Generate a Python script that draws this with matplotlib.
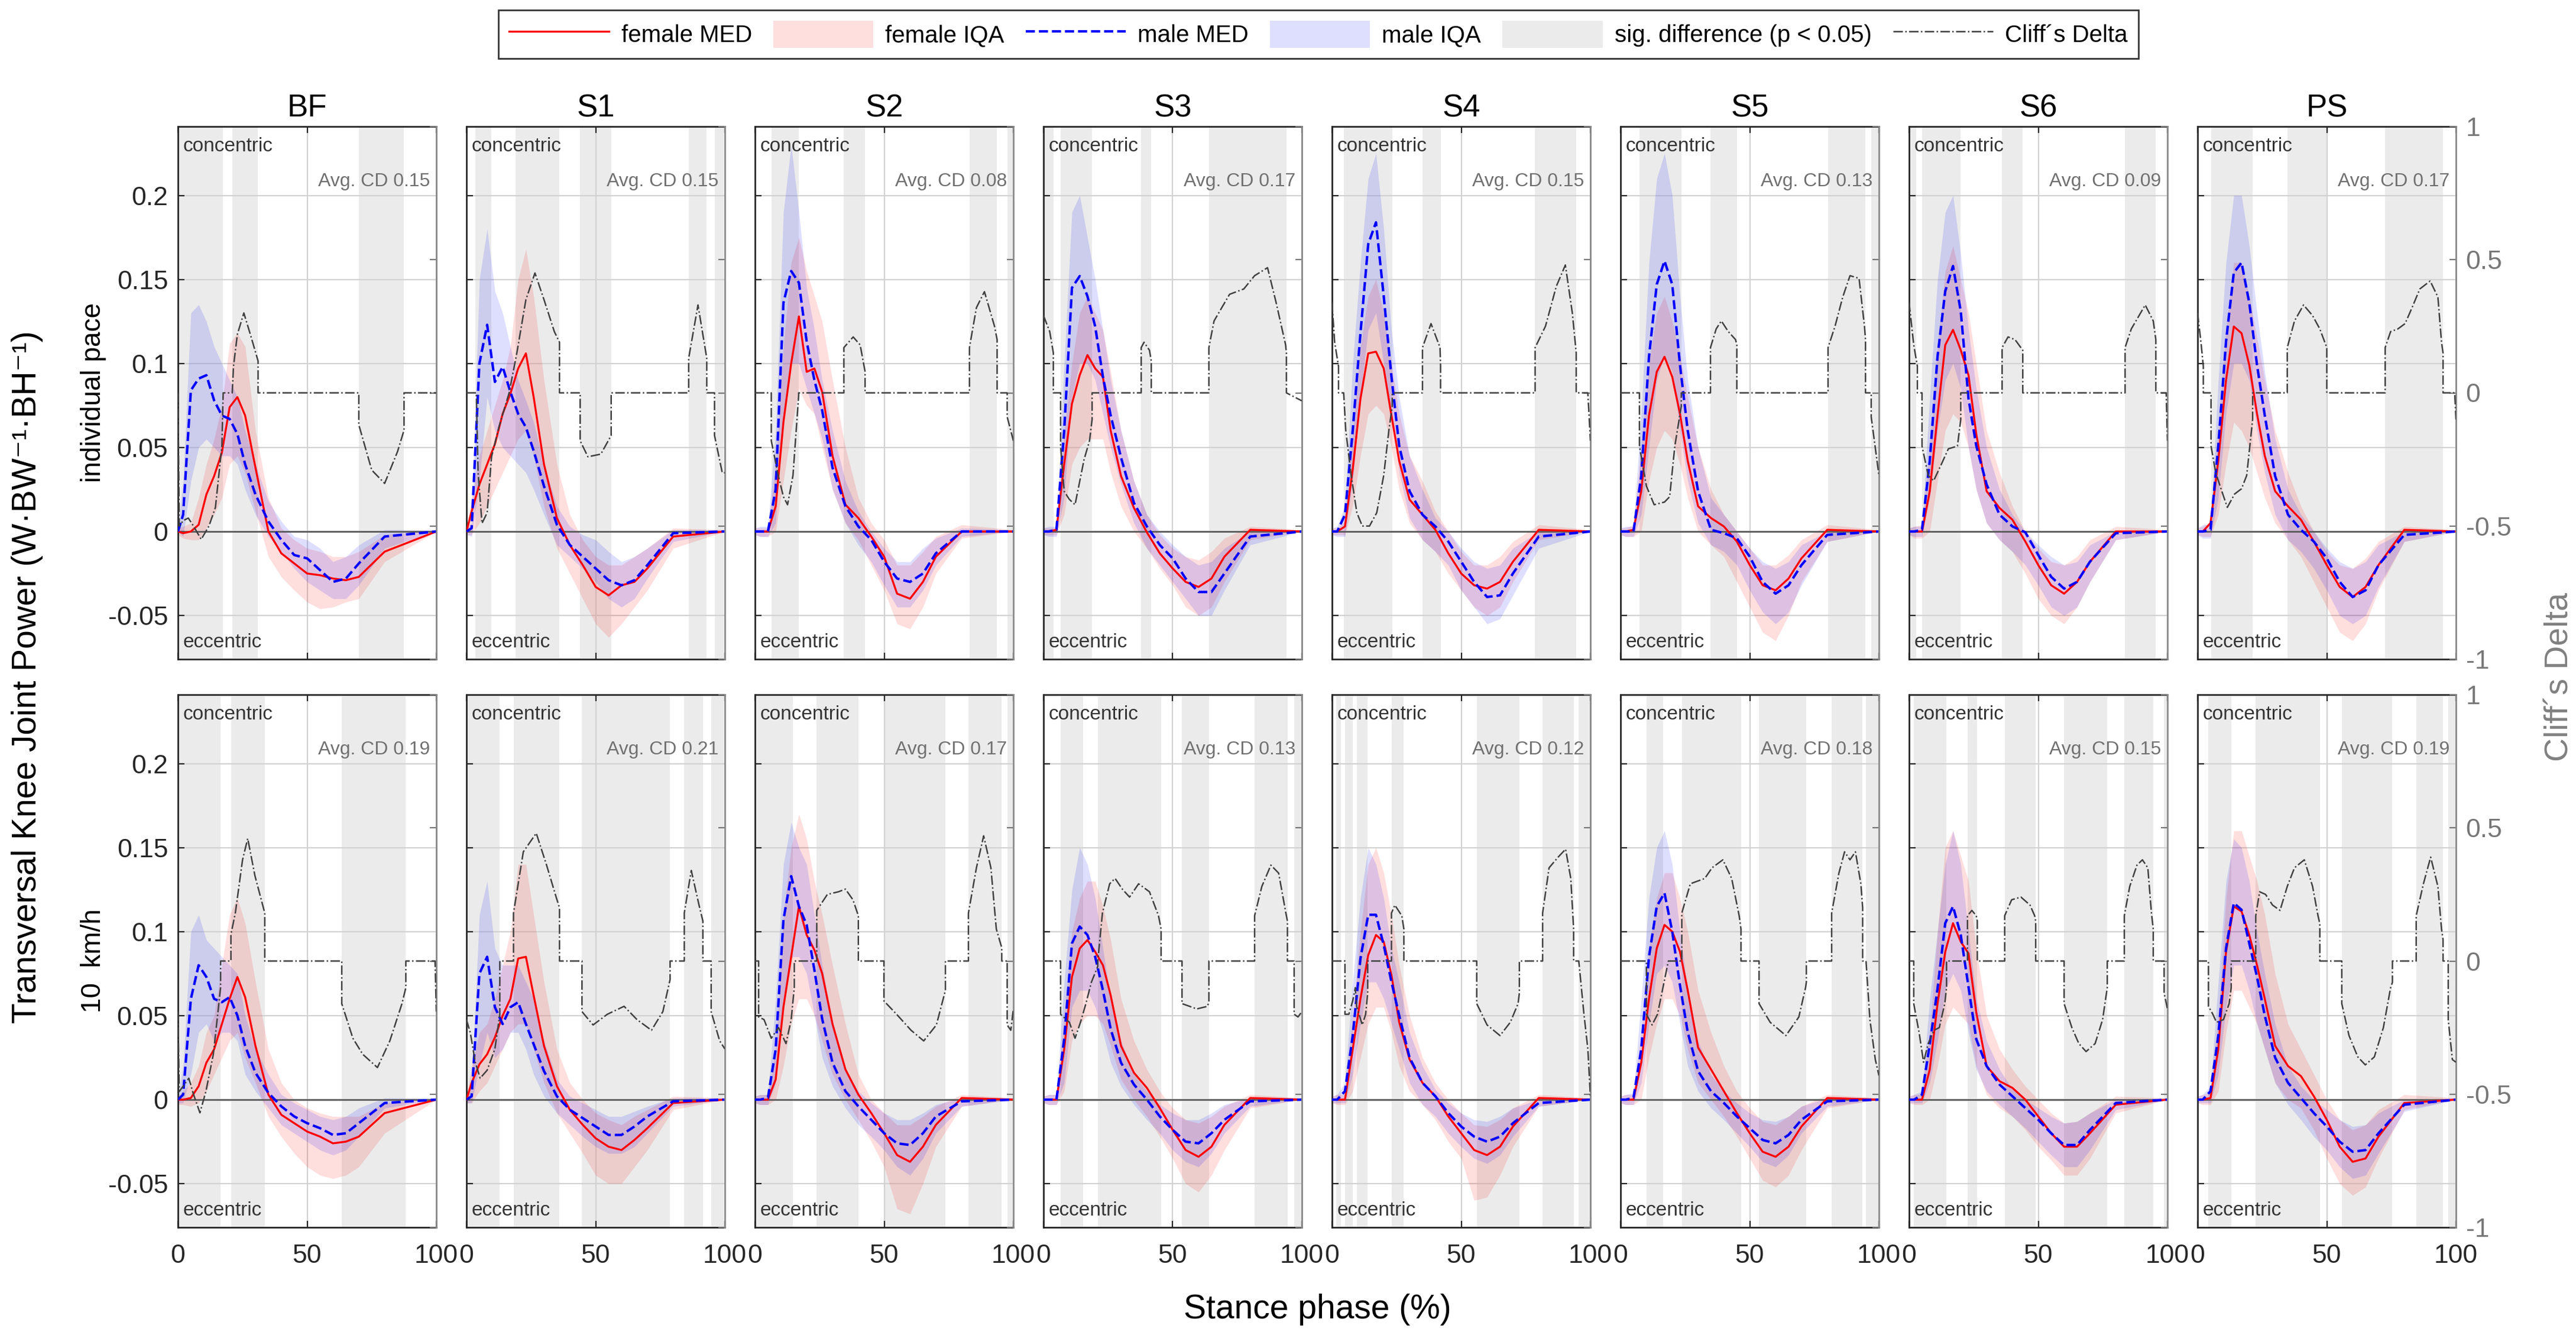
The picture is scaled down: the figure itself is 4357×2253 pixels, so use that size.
import matplotlib
matplotlib.use('Agg')
import matplotlib.pyplot as plt
from matplotlib.lines import Line2D
from matplotlib.patches import Patch
from matplotlib.ticker import FuncFormatter
import numpy as np

plt.rcParams['font.family'] = ['Liberation Sans', 'DejaVu Sans']

# stance phase sample points (%)
X_GRID = [0, 2, 5, 8, 11, 14, 17, 20, 23, 26, 30, 35, 40, 45, 50, 55, 60, 65, 70, 80, 100]

SEGMENTS = ['BF', 'S1', 'S2', 'S3', 'S4', 'S5', 'S6', 'PS']
ROW_NAMES = ['individual pace', '10  km/h']

AVG_CD_IND = [0.15, 0.15, 0.08, 0.17, 0.15, 0.13, 0.09, 0.17]
AVG_CD_10 = [0.19, 0.21, 0.17, 0.13, 0.12, 0.18, 0.15, 0.19]

# ---------------- individual pace ----------------
MAL_MED_IND = [
    [0, 0.01, 0.084, 0.091, 0.093, 0.078, 0.069, 0.067, 0.058, 0.040, 0.022, 0.006, -0.005, -0.014, -0.016, -0.023, -0.030, -0.028, -0.019, -0.003, 0],
    [0, 0.002, 0.1, 0.123, 0.089, 0.098, 0.083, 0.07, 0.062, 0.048, 0.027, 0.004, -0.008, -0.015, -0.022, -0.029, -0.032, -0.029, -0.02, -0.001, 0],
    [0, 0, 0, 0.025, 0.136, 0.155, 0.148, 0.113, 0.09, 0.072, 0.038, 0.015, 0.003, -0.005, -0.018, -0.028, -0.03, -0.025, -0.013, 0, 0],
    [0, 0, 0.001, 0.06, 0.145, 0.152, 0.14, 0.122, 0.092, 0.069, 0.044, 0.017, 0.003, -0.008, -0.016, -0.028, -0.036, -0.036, -0.025, -0.003, 0],
    [0, 0, 0.01, 0.06, 0.118, 0.171, 0.184, 0.14, 0.092, 0.051, 0.024, 0.01, 0.003, -0.006, -0.018, -0.03, -0.039, -0.038, -0.025, -0.003, 0],
    [0, 0, 0, 0.033, 0.104, 0.147, 0.161, 0.147, 0.099, 0.06, 0.024, 0.001, -0.001, -0.004, -0.015, -0.03, -0.037, -0.032, -0.02, -0.002, 0],
    [0, 0, 0.001, 0.042, 0.104, 0.143, 0.158, 0.131, 0.079, 0.051, 0.028, 0.01, 0.003, -0.0005, -0.014, -0.027, -0.034, -0.03, -0.018, -0.001, 0],
    [0, 0, 0.001, 0.051, 0.113, 0.154, 0.16, 0.136, 0.099, 0.069, 0.033, 0.01, 0.001, -0.006, -0.016, -0.03, -0.039, -0.035, -0.02, -0.002, 0],
]
MAL_LO_IND = [
    [0, -0.003, 0.03, 0.05, 0.055, 0.05, 0.045, 0.045, 0.04, 0.025, 0.01, -0.003, -0.012, -0.022, -0.03, -0.035, -0.04, -0.04, -0.032, -0.01, 0],
    [-0.002, -0.003, 0.03, 0.08, 0.06, 0.05, 0.045, 0.04, 0.035, 0.025, 0.01, -0.008, -0.015, -0.022, -0.03, -0.04, -0.045, -0.04, -0.028, -0.006, 0],
    [-0.002, -0.003, -0.003, 0.005, 0.07, 0.1, 0.1, 0.085, 0.07, 0.055, 0.025, 0.005, -0.008, -0.018, -0.032, -0.045, -0.045, -0.035, -0.02, -0.003, 0],
    [-0.002, -0.003, -0.003, 0.02, 0.08, 0.1, 0.1, 0.09, 0.07, 0.05, 0.028, 0.005, -0.01, -0.02, -0.03, -0.04, -0.05, -0.05, -0.035, -0.008, 0],
    [-0.002, -0.003, -0.003, 0.03, 0.08, 0.12, 0.13, 0.1, 0.07, 0.035, 0.008, -0.005, -0.012, -0.02, -0.035, -0.045, -0.055, -0.052, -0.038, -0.01, 0],
    [-0.002, -0.003, -0.003, 0.01, 0.05, 0.09, 0.105, 0.095, 0.06, 0.03, 0.005, -0.008, -0.012, -0.02, -0.035, -0.048, -0.055, -0.048, -0.032, -0.006, 0],
    [-0.002, -0.003, -0.003, 0.02, 0.06, 0.09, 0.1, 0.085, 0.05, 0.025, 0.005, -0.005, -0.012, -0.02, -0.032, -0.045, -0.05, -0.045, -0.03, -0.005, 0],
    [-0.002, -0.004, -0.004, 0.02, 0.07, 0.1, 0.1, 0.09, 0.06, 0.035, 0.01, -0.005, -0.012, -0.022, -0.035, -0.05, -0.055, -0.05, -0.033, -0.006, 0],
]
MAL_HI_IND = [
    [0.003, 0.03, 0.13, 0.135, 0.125, 0.11, 0.1, 0.09, 0.08, 0.06, 0.04, 0.018, 0.006, -0.003, -0.005, -0.01, -0.018, -0.015, -0.008, 0.001, 0.001],
    [0.002, 0.005, 0.15, 0.18, 0.143, 0.13, 0.11, 0.09, 0.078, 0.065, 0.04, 0.015, 0.003, -0.002, -0.005, -0.012, -0.018, -0.015, -0.01, 0.001, 0.001],
    [0.002, 0.003, 0.003, 0.06, 0.19, 0.23, 0.19, 0.145, 0.12, 0.09, 0.06, 0.03, 0.012, 0.0, -0.01, -0.018, -0.018, -0.01, -0.004, 0.002, 0.001],
    [0.002, 0.003, 0.003, 0.1, 0.19, 0.2, 0.175, 0.15, 0.12, 0.09, 0.06, 0.03, 0.01, 0.0, -0.008, -0.015, -0.02, -0.018, -0.01, 0.0, 0.001],
    [0.002, 0.003, 0.015, 0.1, 0.16, 0.21, 0.225, 0.18, 0.12, 0.08, 0.045, 0.025, 0.008, 0.0, -0.01, -0.018, -0.022, -0.02, -0.01, 0.0, 0.001],
    [0.002, 0.003, 0.003, 0.07, 0.16, 0.21, 0.225, 0.2, 0.14, 0.09, 0.05, 0.02, 0.01, 0.0, -0.01, -0.018, -0.022, -0.018, -0.008, 0.0, 0.001],
    [0.002, 0.003, 0.003, 0.08, 0.15, 0.19, 0.2, 0.165, 0.12, 0.085, 0.05, 0.025, 0.01, 0.0, -0.008, -0.015, -0.02, -0.018, -0.008, 0.0, 0.001],
    [0.002, 0.004, 0.004, 0.09, 0.16, 0.2, 0.2, 0.17, 0.13, 0.095, 0.055, 0.025, 0.01, 0.0, -0.01, -0.018, -0.022, -0.018, -0.008, 0.0, 0.001],
]
FEM_MED_IND = [
    [0, -0.001, 0, 0.004, 0.022, 0.033, 0.047, 0.074, 0.08, 0.069, 0.038, 0.0, -0.013, -0.019, -0.025, -0.026, -0.028, -0.029, -0.027, -0.012, 0],
    [0, 0.012, 0.028, 0.04, 0.052, 0.07, 0.082, 0.097, 0.106, 0.08, 0.04, 0.008, -0.008, -0.02, -0.033, -0.038, -0.032, -0.03, -0.022, -0.003, 0],
    [0, 0, 0, 0.015, 0.065, 0.1, 0.128, 0.095, 0.097, 0.083, 0.045, 0.016, 0.008, -0.003, -0.015, -0.037, -0.04, -0.03, -0.015, 0.0, 0],
    [0, 0, 0.001, 0.04, 0.076, 0.093, 0.105, 0.097, 0.092, 0.06, 0.033, 0.014, -0.0005, -0.013, -0.022, -0.03, -0.033, -0.028, -0.015, 0.001, 0],
    [0, 0, 0.003, 0.037, 0.079, 0.106, 0.107, 0.097, 0.069, 0.042, 0.019, 0.01, 0.001, -0.013, -0.025, -0.032, -0.034, -0.03, -0.018, 0.001, 0],
    [0, 0, 0.001, 0.024, 0.069, 0.095, 0.104, 0.092, 0.07, 0.042, 0.015, 0.008, 0.003, -0.006, -0.02, -0.032, -0.035, -0.028, -0.016, 0.001, 0],
    [0, 0, 0, 0.024, 0.069, 0.111, 0.12, 0.108, 0.093, 0.058, 0.024, 0.014, 0.007, -0.006, -0.02, -0.032, -0.037, -0.03, -0.018, 0.0, 0],
    [0, 0, 0.005, 0.042, 0.09, 0.122, 0.118, 0.099, 0.07, 0.045, 0.024, 0.015, 0.007, -0.006, -0.02, -0.033, -0.039, -0.033, -0.02, 0.001, 0],
]
FEM_LO_IND = [
    [-0.002, -0.004, -0.005, -0.005, 0.002, 0.01, 0.02, 0.04, 0.045, 0.035, 0.012, -0.015, -0.027, -0.035, -0.042, -0.046, -0.045, -0.042, -0.04, -0.018, 0],
    [-0.002, -0.002, 0.005, 0.015, 0.025, 0.035, 0.045, 0.055, 0.06, 0.045, 0.015, -0.01, -0.025, -0.04, -0.055, -0.063, -0.055, -0.045, -0.035, -0.01, 0],
    [-0.002, -0.003, -0.003, 0.0, 0.03, 0.06, 0.085, 0.075, 0.07, 0.05, 0.025, 0.005, -0.005, -0.02, -0.035, -0.055, -0.058, -0.045, -0.025, -0.004, 0],
    [-0.002, -0.002, -0.002, 0.01, 0.04, 0.05, 0.055, 0.055, 0.055, 0.035, 0.015, 0.0, -0.01, -0.022, -0.032, -0.045, -0.05, -0.045, -0.03, -0.005, 0],
    [-0.002, -0.002, -0.002, 0.015, 0.045, 0.07, 0.075, 0.07, 0.05, 0.025, 0.005, -0.005, -0.012, -0.025, -0.035, -0.045, -0.05, -0.045, -0.03, -0.005, 0],
    [-0.002, -0.003, -0.003, 0.0, 0.03, 0.05, 0.06, 0.055, 0.04, 0.02, 0.0, -0.008, -0.015, -0.03, -0.045, -0.06, -0.065, -0.05, -0.03, -0.006, 0],
    [-0.002, -0.004, -0.004, 0.0, 0.03, 0.06, 0.07, 0.065, 0.05, 0.025, 0.005, -0.005, -0.012, -0.025, -0.04, -0.05, -0.055, -0.045, -0.03, -0.005, 0],
    [-0.002, -0.003, -0.003, 0.01, 0.04, 0.065, 0.06, 0.05, 0.035, 0.02, 0.005, -0.005, -0.015, -0.03, -0.045, -0.06, -0.065, -0.055, -0.035, -0.006, 0],
]
FEM_HI_IND = [
    [0.002, 0.003, 0.005, 0.02, 0.04, 0.055, 0.075, 0.112, 0.118, 0.11, 0.06, 0.02, 0.002, -0.005, -0.01, -0.012, -0.015, -0.015, -0.012, -0.002, 0.001],
    [0.002, 0.02, 0.045, 0.06, 0.075, 0.09, 0.11, 0.15, 0.168, 0.14, 0.09, 0.04, 0.01, -0.005, -0.015, -0.02, -0.02, -0.015, -0.01, 0.002, 0.001],
    [0.002, 0.002, 0.002, 0.04, 0.11, 0.16, 0.175, 0.155, 0.14, 0.125, 0.09, 0.05, 0.02, 0.005, -0.005, -0.02, -0.02, -0.012, -0.003, 0.004, 0.001],
    [0.002, 0.002, 0.002, 0.06, 0.1, 0.13, 0.14, 0.13, 0.12, 0.095, 0.06, 0.03, 0.01, -0.002, -0.01, -0.015, -0.017, -0.012, -0.004, 0.003, 0.001],
    [0.002, 0.002, 0.006, 0.06, 0.11, 0.14, 0.15, 0.13, 0.1, 0.07, 0.045, 0.03, 0.012, 0.0, -0.012, -0.02, -0.02, -0.015, -0.006, 0.004, 0.001],
    [0.002, 0.002, 0.004, 0.05, 0.1, 0.13, 0.14, 0.125, 0.105, 0.08, 0.05, 0.025, 0.01, 0.0, -0.01, -0.02, -0.02, -0.014, -0.005, 0.004, 0.001],
    [0.002, 0.003, 0.004, 0.05, 0.11, 0.155, 0.17, 0.15, 0.13, 0.1, 0.06, 0.035, 0.015, 0.0, -0.01, -0.018, -0.02, -0.015, -0.005, 0.003, 0.001],
    [0.002, 0.003, 0.006, 0.06, 0.12, 0.16, 0.16, 0.14, 0.115, 0.09, 0.06, 0.035, 0.015, 0.0, -0.012, -0.02, -0.022, -0.016, -0.006, 0.003, 0.001],
]
SIG_IND = [
    [(0, 17.5), (21, 31), (70, 87.5)],
    [(3.5, 9.7), (19, 36), (44, 56), (86, 93), (96, 99.5)],
    [(6.3, 16.9), (34.4, 42.6), (83, 93.7), (97.6, 100)],
    [(0, 4), (6.6, 18.8), (37.8, 41.7), (64, 94)],
    [(4.5, 23.3), (35, 42), (78.6, 94.5)],
    [(7.3, 23.5), (34.8, 45), (80.3, 94.8), (97, 100)],
    [(0, 2.8), (5, 20), (36, 44), (83.6, 95.5)],
    [(5.2, 21.3), (34.7, 50), (72.6, 95)],
]
CD_IND = [
    [(0, 0), (0.5, -0.5), (2, -0.48), (4, -0.47), (6, -0.5), (9, -0.55), (12, -0.5), (14.5, -0.43), (17, -0.2), (17.5, 0), (21, 0), (21.5, 0.1), (23, 0.22), (25.5, 0.3), (28, 0.22), (31, 0.12), (31, 0), (70, 0), (70, -0.12), (75, -0.29), (80, -0.34), (85, -0.22), (87.5, -0.14), (87.5, 0), (100, 0)],
    [(0, 0), (3.8, 0), (4.5, -0.3), (6, -0.49), (8, -0.45), (9.7, -0.24), (12.5, -0.13), (16.5, 0), (19.5, 0.15), (23, 0.35), (26.5, 0.45), (30, 0.35), (34, 0.23), (36, 0.19), (36, 0), (44, 0), (44, -0.18), (47, -0.24), (52, -0.23), (56, -0.16), (56, 0), (86, 0), (86, 0.13), (89.6, 0.33), (93, 0.13), (93, 0), (96, 0), (96, -0.16), (99, -0.3), (100, -0.3)],
    [(0, 0), (6.3, 0), (6.3, -0.18), (9, -0.31), (11, -0.39), (12.6, -0.42), (14.7, -0.31), (16.9, -0.01), (16.9, 0), (34.4, 0), (34.4, 0.17), (38, 0.21), (40.7, 0.18), (42.6, 0.08), (42.6, 0), (83, 0), (83, 0.17), (85.7, 0.32), (88.8, 0.38), (92.7, 0.25), (93.7, 0.2), (93.7, 0), (97.6, 0), (97.6, -0.09), (100, -0.18)],
    [(0, 0.29), (2.4, 0.23), (3.8, 0.15), (3.8, 0), (6.6, 0), (6.6, -0.2), (8, -0.37), (10, -0.4), (12.2, -0.42), (15.7, -0.25), (17.8, -0.18), (18.8, -0.1), (18.8, 0), (37.8, 0), (37.8, 0.17), (38.9, 0.19), (41, 0.16), (41.7, 0.12), (41.7, 0), (64, 0), (64, 0.17), (66, 0.27), (72, 0.37), (77.5, 0.39), (81.7, 0.44), (86.7, 0.47), (90, 0.34), (93.7, 0.18), (94, 0.15), (94, 0), (100, -0.03)],
    [(0, 0.34), (1, 0.19), (2.5, 0.1), (2.5, 0), (4.5, 0), (5.3, -0.14), (7.4, -0.31), (9.6, -0.45), (11.7, -0.5), (14.5, -0.5), (17.3, -0.45), (20, -0.31), (22, -0.14), (23.3, -0.05), (23.3, 0), (35, 0), (35, 0.17), (38.3, 0.26), (41.8, 0.17), (42, 0.1), (42, 0), (78.6, 0), (78.6, 0.17), (82.6, 0.25), (86.8, 0.4), (90.3, 0.48), (93, 0.3), (94.5, 0.15), (94.5, 0), (99, 0), (100, -0.18)],
    [(0, 0), (7.3, 0), (7.3, -0.2), (10, -0.35), (13, -0.42), (17, -0.41), (19, -0.39), (21, -0.2), (23.5, -0.05), (23.5, 0), (34.8, 0), (34.8, 0.17), (37, 0.24), (39, 0.27), (41.7, 0.23), (44.5, 0.2), (45, 0.18), (45, 0), (80.3, 0), (80.3, 0.17), (83, 0.25), (86, 0.36), (88.8, 0.44), (92.3, 0.43), (94.4, 0.25), (94.8, 0.2), (94.8, 0), (97, 0), (97, -0.09), (100, -0.31)],
    [(0, 0.34), (1.8, 0.18), (3.2, 0.1), (3.2, 0), (5, 0), (5, -0.2), (7.4, -0.31), (9.5, -0.33), (12.4, -0.27), (15.2, -0.21), (18.7, -0.2), (20, -0.1), (20, 0), (36, 0), (36, 0.17), (38.3, 0.21), (41, 0.2), (44, 0.16), (44, 0), (83.6, 0), (83.6, 0.17), (86, 0.24), (89, 0.29), (91.4, 0.33), (94.5, 0.27), (95.5, 0.2), (95.5, 0), (99.5, 0), (100, -0.18)],
    [(0, 0.3), (1.4, 0.18), (2.2, 0.1), (2.2, 0), (5.2, 0), (5.2, -0.2), (7, -0.3), (9.4, -0.37), (11.5, -0.43), (14.3, -0.38), (17, -0.36), (19, -0.31), (21.3, -0.1), (21.3, 0), (34.7, 0), (34.7, 0.17), (37.5, 0.27), (41, 0.33), (44.5, 0.29), (47.3, 0.24), (50, 0.17), (50, 0), (72.6, 0), (72.6, 0.17), (74.7, 0.23), (77.5, 0.24), (80.3, 0.26), (83, 0.32), (86, 0.39), (90, 0.42), (93, 0.36), (94.4, 0.19), (95, 0.15), (95, 0), (99.5, 0), (100, -0.1)],
]

# ---------------- 10 km/h ----------------
MAL_MED_10 = [
    [0, 0.003, 0.06, 0.08, 0.073, 0.06, 0.058, 0.061, 0.05, 0.032, 0.016, 0.004, -0.004, -0.01, -0.014, -0.017, -0.021, -0.02, -0.014, -0.002, 0],
    [0, 0.002, 0.075, 0.085, 0.055, 0.045, 0.055, 0.058, 0.045, 0.033, 0.017, 0.002, -0.006, -0.011, -0.016, -0.021, -0.021, -0.016, -0.01, -0.001, 0],
    [0, 0, 0.001, 0.03, 0.107, 0.133, 0.115, 0.104, 0.077, 0.048, 0.022, 0.005, -0.004, -0.012, -0.02, -0.026, -0.027, -0.02, -0.01, -0.001, 0],
    [0, 0, 0, 0.036, 0.093, 0.103, 0.098, 0.085, 0.065, 0.042, 0.022, 0.009, 0.0, -0.01, -0.018, -0.025, -0.026, -0.02, -0.012, -0.001, 0],
    [0, 0, 0.005, 0.038, 0.084, 0.11, 0.11, 0.092, 0.07, 0.05, 0.025, 0.01, 0.002, -0.008, -0.016, -0.022, -0.025, -0.022, -0.014, -0.002, 0],
    [0, 0, 0.001, 0.03, 0.085, 0.115, 0.123, 0.1, 0.068, 0.04, 0.017, 0.005, -0.002, -0.01, -0.017, -0.024, -0.026, -0.021, -0.012, -0.001, 0],
    [0, 0, 0.003, 0.033, 0.066, 0.105, 0.115, 0.098, 0.067, 0.036, 0.02, 0.009, 0.002, -0.005, -0.012, -0.02, -0.027, -0.027, -0.018, -0.002, 0],
    [0, 0, 0.005, 0.038, 0.09, 0.117, 0.113, 0.093, 0.073, 0.05, 0.025, 0.01, 0.001, -0.008, -0.016, -0.025, -0.031, -0.03, -0.02, -0.003, 0],
]
MAL_LO_10 = [
    [-0.002, -0.002, 0.015, 0.04, 0.045, 0.035, 0.04, 0.04, 0.035, 0.015, 0.005, -0.005, -0.015, -0.02, -0.025, -0.03, -0.033, -0.03, -0.022, -0.005, 0],
    [-0.002, -0.002, 0.02, 0.04, 0.025, 0.03, 0.04, 0.04, 0.03, 0.015, 0.002, -0.008, -0.015, -0.022, -0.028, -0.032, -0.032, -0.028, -0.02, -0.004, 0],
    [-0.002, -0.003, -0.003, 0.01, 0.06, 0.085, 0.085, 0.075, 0.05, 0.025, 0.008, -0.005, -0.015, -0.022, -0.03, -0.04, -0.045, -0.035, -0.02, -0.004, 0],
    [-0.002, -0.003, -0.003, 0.01, 0.055, 0.065, 0.065, 0.055, 0.04, 0.022, 0.008, -0.003, -0.012, -0.02, -0.03, -0.037, -0.04, -0.032, -0.02, -0.004, 0],
    [-0.002, -0.002, -0.002, 0.015, 0.045, 0.07, 0.07, 0.06, 0.045, 0.03, 0.01, -0.003, -0.01, -0.02, -0.028, -0.035, -0.038, -0.033, -0.022, -0.004, 0],
    [-0.002, -0.003, -0.003, 0.01, 0.045, 0.075, 0.08, 0.07, 0.045, 0.02, 0.005, -0.005, -0.012, -0.02, -0.028, -0.037, -0.04, -0.033, -0.02, -0.004, 0],
    [-0.002, -0.002, -0.002, 0.01, 0.035, 0.065, 0.075, 0.065, 0.04, 0.018, 0.005, -0.003, -0.01, -0.017, -0.025, -0.033, -0.04, -0.04, -0.03, -0.006, 0],
    [-0.002, -0.002, -0.002, 0.015, 0.055, 0.08, 0.08, 0.065, 0.045, 0.03, 0.01, -0.003, -0.012, -0.022, -0.03, -0.04, -0.047, -0.045, -0.032, -0.007, 0],
]
MAL_HI_10 = [
    [0.002, 0.02, 0.1, 0.11, 0.095, 0.09, 0.085, 0.08, 0.075, 0.05, 0.03, 0.015, 0.003, -0.002, -0.006, -0.01, -0.012, -0.01, -0.005, 0.001, 0.001],
    [0.002, 0.01, 0.11, 0.13, 0.09, 0.08, 0.08, 0.08, 0.07, 0.06, 0.035, 0.012, 0.002, -0.002, -0.006, -0.01, -0.01, -0.007, -0.004, 0.001, 0.001],
    [0.002, 0.003, 0.003, 0.06, 0.14, 0.165, 0.15, 0.14, 0.11, 0.08, 0.045, 0.018, 0.005, -0.002, -0.008, -0.012, -0.012, -0.008, -0.003, 0.001, 0.001],
    [0.002, 0.003, 0.003, 0.07, 0.125, 0.15, 0.14, 0.12, 0.09, 0.06, 0.035, 0.015, 0.005, -0.003, -0.008, -0.012, -0.012, -0.008, -0.003, 0.001, 0.001],
    [0.002, 0.003, 0.01, 0.07, 0.12, 0.15, 0.14, 0.12, 0.09, 0.07, 0.04, 0.02, 0.006, -0.002, -0.008, -0.012, -0.013, -0.01, -0.005, 0.0, 0.001],
    [0.002, 0.003, 0.004, 0.06, 0.12, 0.15, 0.16, 0.14, 0.1, 0.065, 0.035, 0.015, 0.005, -0.002, -0.008, -0.012, -0.013, -0.01, -0.004, 0.001, 0.001],
    [0.002, 0.003, 0.005, 0.06, 0.1, 0.14, 0.16, 0.14, 0.1, 0.06, 0.035, 0.018, 0.006, 0.0, -0.005, -0.01, -0.014, -0.013, -0.008, 0.0, 0.001],
    [0.002, 0.003, 0.008, 0.07, 0.13, 0.155, 0.15, 0.13, 0.1, 0.075, 0.045, 0.02, 0.008, 0.0, -0.006, -0.012, -0.016, -0.015, -0.008, 0.0, 0.001],
]
FEM_MED_10 = [
    [0, 0, 0.001, 0.008, 0.022, 0.03, 0.045, 0.06, 0.073, 0.061, 0.032, 0.003, -0.009, -0.014, -0.019, -0.022, -0.026, -0.025, -0.022, -0.008, 0],
    [0, 0.01, 0.021, 0.027, 0.037, 0.05, 0.06, 0.084, 0.085, 0.062, 0.032, 0.008, -0.006, -0.015, -0.023, -0.028, -0.03, -0.024, -0.017, -0.002, 0],
    [0, 0, 0, 0.012, 0.055, 0.085, 0.115, 0.098, 0.089, 0.075, 0.045, 0.018, 0.003, -0.008, -0.02, -0.033, -0.037, -0.028, -0.015, 0.001, 0],
    [0, 0, 0, 0.03, 0.073, 0.09, 0.095, 0.088, 0.08, 0.062, 0.032, 0.016, 0.007, -0.005, -0.018, -0.03, -0.034, -0.028, -0.015, 0.001, 0],
    [0, 0, 0, 0.03, 0.06, 0.086, 0.098, 0.094, 0.074, 0.046, 0.024, 0.01, 0.002, -0.01, -0.02, -0.03, -0.033, -0.028, -0.016, 0.001, 0],
    [0, 0, 0, 0.022, 0.06, 0.09, 0.104, 0.1, 0.088, 0.065, 0.031, 0.018, 0.005, -0.008, -0.02, -0.031, -0.034, -0.028, -0.016, 0.001, 0],
    [0, 0, 0, 0.018, 0.057, 0.088, 0.105, 0.094, 0.087, 0.052, 0.02, 0.011, 0.007, 0.0, -0.01, -0.02, -0.028, -0.028, -0.02, -0.003, 0],
    [0, 0, 0.001, 0.03, 0.088, 0.115, 0.112, 0.098, 0.08, 0.06, 0.032, 0.02, 0.014, 0.002, -0.012, -0.028, -0.037, -0.035, -0.022, -0.002, 0],
]
FEM_LO_10 = [
    [-0.003, -0.003, -0.004, -0.002, 0.005, 0.015, 0.025, 0.035, 0.04, 0.025, 0.01, -0.01, -0.022, -0.032, -0.04, -0.045, -0.047, -0.045, -0.04, -0.02, 0],
    [-0.002, -0.002, 0.005, 0.01, 0.02, 0.03, 0.04, 0.045, 0.045, 0.03, 0.01, -0.008, -0.02, -0.032, -0.045, -0.05, -0.05, -0.04, -0.03, -0.006, 0],
    [-0.002, -0.003, -0.003, 0.0, 0.02, 0.045, 0.06, 0.06, 0.05, 0.035, 0.015, 0.0, -0.012, -0.025, -0.04, -0.065, -0.068, -0.05, -0.028, -0.004, 0],
    [-0.002, -0.003, -0.003, 0.005, 0.035, 0.045, 0.05, 0.05, 0.045, 0.032, 0.012, 0.0, -0.01, -0.022, -0.035, -0.05, -0.055, -0.045, -0.03, -0.005, 0],
    [-0.002, -0.003, -0.003, 0.005, 0.025, 0.045, 0.055, 0.055, 0.04, 0.02, 0.005, -0.003, -0.012, -0.025, -0.035, -0.06, -0.058, -0.045, -0.028, -0.004, 0],
    [-0.002, -0.003, -0.003, 0.0, 0.025, 0.045, 0.06, 0.06, 0.05, 0.03, 0.01, 0.0, -0.01, -0.022, -0.035, -0.048, -0.052, -0.045, -0.03, -0.005, 0],
    [-0.002, -0.003, -0.003, 0.0, 0.02, 0.045, 0.055, 0.05, 0.045, 0.02, 0.003, -0.005, -0.01, -0.018, -0.028, -0.036, -0.045, -0.045, -0.035, -0.008, 0],
    [-0.002, -0.003, -0.003, 0.005, 0.04, 0.065, 0.065, 0.055, 0.045, 0.03, 0.01, 0.0, -0.005, -0.018, -0.035, -0.05, -0.057, -0.052, -0.035, -0.006, 0],
]
FEM_HI_10 = [
    [0.002, 0.005, 0.01, 0.02, 0.04, 0.05, 0.08, 0.11, 0.12, 0.105, 0.07, 0.03, 0.01, 0.0, -0.005, -0.008, -0.01, -0.01, -0.01, -0.002, 0.001],
    [0.002, 0.02, 0.04, 0.045, 0.06, 0.08, 0.1, 0.14, 0.14, 0.11, 0.07, 0.03, 0.01, 0.0, -0.008, -0.012, -0.015, -0.01, -0.006, 0.002, 0.001],
    [0.002, 0.003, 0.003, 0.03, 0.11, 0.15, 0.17, 0.155, 0.13, 0.11, 0.08, 0.045, 0.015, 0.0, -0.008, -0.015, -0.015, -0.01, -0.004, 0.003, 0.001],
    [0.002, 0.003, 0.003, 0.05, 0.1, 0.12, 0.13, 0.13, 0.115, 0.095, 0.06, 0.035, 0.018, 0.005, -0.005, -0.012, -0.014, -0.01, -0.004, 0.003, 0.001],
    [0.002, 0.003, 0.003, 0.05, 0.1, 0.14, 0.15, 0.135, 0.11, 0.08, 0.05, 0.025, 0.01, 0.0, -0.008, -0.015, -0.016, -0.012, -0.005, 0.003, 0.001],
    [0.002, 0.003, 0.003, 0.04, 0.09, 0.12, 0.135, 0.135, 0.12, 0.1, 0.065, 0.04, 0.02, 0.005, -0.005, -0.013, -0.015, -0.01, -0.004, 0.003, 0.001],
    [0.002, 0.003, 0.003, 0.04, 0.1, 0.15, 0.16, 0.145, 0.13, 0.09, 0.05, 0.03, 0.018, 0.008, 0.0, -0.008, -0.014, -0.013, -0.008, 0.002, 0.001],
    [0.002, 0.003, 0.004, 0.05, 0.12, 0.16, 0.16, 0.145, 0.13, 0.11, 0.075, 0.045, 0.03, 0.015, 0.0, -0.012, -0.018, -0.015, -0.006, 0.003, 0.001],
]
SIG_10 = [
    [(0, 16.5), (20.5, 33.6), (63.4, 88.2)],
    [(0, 12.9), (18.2, 36), (44.7, 78.8), (84.3, 91.5), (94.7, 99.6)],
    [(0, 14.7), (23.9, 40), (49.9, 73.7), (82.6, 95.5), (97.6, 100)],
    [(6.6, 15.4), (21, 45.5), (53.6, 64), (81.7, 94.4), (97, 100)],
    [(1.5, 3.5), (5, 8), (9.5, 13.8), (23, 27.8), (56, 72.5), (81.5, 93.5), (95.5, 100)],
    [(10, 16.4), (23.7, 46.6), (53.6, 71.9), (81.7, 93.7), (95, 100)],
    [(1.8, 14.5), (22.6, 26.4), (37, 49), (60, 76.7), (83.3, 94.5), (98.7, 100)],
    [(4.2, 13), (22.5, 47.3), (55.8, 75.4), (84.6, 95), (97, 100)],
]
CD_10 = [
    [(0, -0.19), (0.5, -0.49), (2, -0.47), (4.2, -0.44), (6, -0.5), (8.5, -0.57), (10.8, -0.49), (13.7, -0.35), (16.5, -0.1), (16.5, 0), (20.5, 0), (20.5, 0.1), (22.2, 0.18), (25, 0.38), (27, 0.46), (29.8, 0.32), (33.6, 0.18), (33.6, 0), (63.4, 0), (63.4, -0.16), (67.7, -0.29), (71.5, -0.35), (77.2, -0.4), (82, -0.3), (86.7, -0.16), (88.2, -0.1), (88.2, 0), (99.5, 0), (100, -0.19)],
    [(0, -0.22), (1.5, -0.27), (3.4, -0.38), (5.3, -0.44), (8, -0.41), (11, -0.33), (12.9, -0.2), (12.9, 0), (18.2, 0), (18.2, 0.18), (22, 0.41), (27, 0.48), (31, 0.36), (34.7, 0.24), (36, 0.2), (36, 0), (44.7, 0), (44.7, -0.19), (49, -0.24), (54.5, -0.2), (61, -0.17), (66, -0.22), (71.6, -0.26), (76, -0.19), (78.8, -0.07), (78.8, 0), (84.3, 0), (84.3, 0.18), (87, 0.34), (90, 0.21), (91.5, 0.15), (91.5, 0), (94.7, 0), (94.7, -0.19), (98, -0.3), (100, -0.33)],
    [(0, 0), (1.4, 0), (1.4, -0.21), (3.5, -0.22), (6.3, -0.29), (9.1, -0.25), (12, -0.31), (14, -0.22), (15.2, -0.1), (15.2, 0), (23.9, 0), (23.9, 0.19), (28, 0.25), (32.3, 0.26), (35, 0.27), (37.9, 0.23), (40, 0.17), (40, 0), (49.9, 0), (49.9, -0.15), (54.8, -0.2), (60.4, -0.26), (65.3, -0.3), (70.2, -0.24), (73.7, -0.11), (73.7, 0), (82.6, 0), (82.6, 0.18), (85.7, 0.35), (88.5, 0.47), (91.3, 0.35), (93.4, 0.12), (95.5, 0.05), (95.5, 0), (97.6, 0), (97.6, -0.24), (99, -0.26), (100, -0.18)],
    [(0, 0), (6.6, 0), (6.6, -0.2), (10, -0.23), (12.2, -0.29), (14.3, -0.23), (16.4, -0.16), (18.5, -0.08), (21, -0.02), (21, 0), (22.8, 0.18), (25.6, 0.29), (27.7, 0.31), (30.5, 0.27), (33.3, 0.24), (36.8, 0.29), (41, 0.26), (44.5, 0.17), (45.5, 0.12), (45.5, 0), (53.6, 0), (53.6, -0.16), (56.5, -0.17), (59.3, -0.18), (63.5, -0.17), (64, -0.15), (64, 0), (81.7, 0), (81.7, 0.17), (84.5, 0.28), (88, 0.36), (91, 0.33), (93.8, 0.18), (94.4, 0.15), (94.4, 0), (97, 0), (97, -0.2), (98.5, -0.21), (100, -0.19)],
    [(0, 0), (5, 0), (5, -0.2), (6.5, -0.2), (8, -0.15), (9, -0.1), (9.5, -0.17), (11.7, -0.24), (13, -0.2), (13.8, -0.12), (13.8, 0), (23, 0), (23, 0.18), (24.3, 0.21), (27, 0.17), (27.8, 0.12), (27.8, 0), (56, 0), (56, -0.16), (60, -0.24), (65, -0.28), (69, -0.23), (72, -0.16), (72.5, -0.12), (72.5, 0), (81.5, 0), (81.5, 0.18), (84, 0.35), (87.5, 0.39), (90.4, 0.42), (92.4, 0.31), (93.5, 0.12), (93.5, 0), (95.5, 0), (97.5, -0.2), (99, -0.33), (100, -0.51)],
    [(0, 0), (10, 0), (10, -0.2), (12.2, -0.24), (14.3, -0.2), (16.4, -0.1), (18.5, 0), (23.7, 0), (23.7, 0.18), (27, 0.29), (29.8, 0.3), (32.6, 0.31), (35.4, 0.35), (39.6, 0.38), (43, 0.31), (45.9, 0.17), (46.6, 0.12), (46.6, 0), (53.6, 0), (53.6, -0.16), (57.9, -0.23), (64, -0.28), (69, -0.21), (71.6, -0.1), (71.9, -0.08), (71.9, 0), (81.7, 0), (81.7, 0.18), (84.5, 0.33), (86.7, 0.41), (88.8, 0.38), (90.9, 0.41), (93, 0.29), (93.7, 0.2), (93.7, 0), (95, 0), (96.5, -0.22), (98.6, -0.37), (100, -0.43)],
    [(0, 0), (1.8, 0), (1.8, -0.16), (3.9, -0.27), (5.6, -0.38), (7.4, -0.31), (9.6, -0.26), (11.7, -0.25), (13.8, -0.16), (14.5, -0.1), (14.5, 0), (22.6, 0), (22.6, 0.17), (24.3, 0.19), (26, 0.17), (26.4, 0.15), (26.4, 0), (37, 0), (37, 0.17), (39.7, 0.23), (43.3, 0.24), (46.8, 0.21), (48.6, 0.17), (49, 0.15), (49, 0), (60, 0), (60, -0.16), (63, -0.25), (65.7, -0.31), (68.5, -0.34), (72, -0.31), (74.9, -0.22), (76.7, -0.1), (76.7, 0), (83.3, 0), (83.3, 0.17), (85.4, 0.28), (88.2, 0.36), (90.3, 0.38), (92.4, 0.35), (93.8, 0.18), (94.5, 0.12), (94.5, 0), (98.7, 0), (98.7, -0.12), (100, -0.18)],
    [(0, 0), (4.2, 0), (4.2, -0.17), (5.9, -0.2), (7.3, -0.23), (10, -0.22), (12.2, -0.16), (13, -0.1), (13, 0), (22.5, 0), (22.5, 0.17), (24, 0.26), (26.3, 0.25), (29, 0.21), (31.9, 0.19), (34.7, 0.28), (37.5, 0.35), (41.3, 0.38), (44.5, 0.28), (46.6, 0.17), (47.3, 0.14), (47.3, 0), (55.8, 0), (55.8, -0.16), (58.6, -0.28), (62, -0.36), (64.9, -0.39), (68.4, -0.36), (71.9, -0.25), (74.7, -0.1), (75.4, -0.08), (75.4, 0), (84.6, 0), (84.6, 0.17), (87.4, 0.29), (90.2, 0.39), (93, 0.28), (94.4, 0.12), (95, 0.08), (95, 0), (97, 0), (97, -0.22), (98.6, -0.37), (100, -0.38)],
]

ROWS = [
    (MAL_MED_IND, MAL_LO_IND, MAL_HI_IND, FEM_MED_IND, FEM_LO_IND, FEM_HI_IND, SIG_IND, CD_IND, AVG_CD_IND),
    (MAL_MED_10, MAL_LO_10, MAL_HI_10, FEM_MED_10, FEM_LO_10, FEM_HI_10, SIG_10, CD_10, AVG_CD_10),
]

YTICKS = [-0.05, 0, 0.05, 0.1, 0.15, 0.2]
CD_TICKS = [-1, -0.5, 0, 0.5, 1]

RED = '#ff0000'
BLUE = '#0000ff'
SIG_GRAY = '#ebebeb'
CD_COLOR = '#404040'
SPINE = '#262626'

W, H = 4357, 2253
fig = plt.figure(figsize=(W / 200, H / 200), dpi=200)

fmt = FuncFormatter(lambda v, p: '%g' % v)
x = np.array(X_GRID)

for r, (mm, ml, mh, fm, fl, fh, sig, cd, avg) in enumerate(ROWS):
    bottom_px = 1115 if r == 0 else 2076
    for c in range(8):
        left = (301 + 488 * c) / W
        ax = fig.add_axes([left, 1 - bottom_px / H, 437 / W, 901 / H])
        ax.set_xlim(0, 100)
        ax.set_ylim(-0.076, 0.241)
        ax.set_axisbelow(True)
        ax.grid(True, color='#d2d2d2', lw=0.8)

        for a, b in sig[c]:
            ax.axvspan(a, b, color=SIG_GRAY, lw=0, zorder=0.2)

        ax.fill_between(x, fl[c], fh[c], color=RED, alpha=0.13, lw=0, zorder=1)
        ax.fill_between(x, ml[c], mh[c], color=BLUE, alpha=0.13, lw=0, zorder=1)
        ax.axhline(0, color='#5a5a5a', lw=1.0, zorder=1.5)
        ax.plot(x, fm[c], color=RED, lw=1.2, zorder=3)
        ax.plot(x, mm[c], color=BLUE, lw=1.5, ls='--', zorder=3)

        ax.set_xticks([0, 50, 100])
        ax.set_yticks(YTICKS)
        ax.yaxis.set_major_formatter(fmt)
        ax.tick_params(direction='in', length=4, width=0.8, top=True, right=False,
                       labelsize=16, colors=SPINE, pad=6)
        ax.tick_params(axis='x', pad=10)
        if c > 0:
            ax.tick_params(labelleft=False)
        if r == 0:
            ax.tick_params(labelbottom=False)
            ax.set_title(SEGMENTS[c], fontsize=19, pad=6)
        for s in ax.spines.values():
            s.set_color(SPINE)
            s.set_linewidth(1.0)
        ax.spines['right'].set_visible(False)

        ax.text(0.02, 0.963, 'concentric', transform=ax.transAxes, fontsize=12,
                color='#333333', va='center', ha='left')
        ax.text(0.02, 0.032, 'eccentric', transform=ax.transAxes, fontsize=12,
                color='#333333', va='center', ha='left')
        ax.text(0.975, 0.897, 'Avg. CD %.2f' % avg[c], transform=ax.transAxes,
                fontsize=11.5, color='#707070', va='center', ha='right')

        # Cliff's delta on the right-hand axis
        tw = ax.twinx()
        tw.set_ylim(-1, 1)
        cx = [p[0] for p in cd[c]]
        cy = [p[1] for p in cd[c]]
        tw.plot(cx, cy, color=CD_COLOR, lw=0.9, ls='-.', zorder=4)
        tw.set_yticks(CD_TICKS)
        tw.yaxis.set_major_formatter(fmt)
        tw.tick_params(direction='in', length=4, width=0.8, labelsize=16,
                       colors='#777777', pad=6)
        if c < 7:
            tw.tick_params(labelright=False)
        for k in ['left', 'top', 'bottom']:
            tw.spines[k].set_visible(False)
        tw.spines['right'].set_color('#8a8a8a')
        tw.spines['right'].set_linewidth(1.0)

# row and axis labels
fig.text(158 / W, 1 - 664 / H, ROW_NAMES[0], rotation=90, ha='center', va='center', fontsize=16.5)
fig.text(158 / W, 1 - 1625 / H, ROW_NAMES[1], rotation=90, ha='center', va='center', fontsize=16.5)
fig.text(46 / W, 1 - 1145 / H, 'Transversal Knee Joint Power (W\u00b7BW\u207b\u00b9\u00b7BH\u207b\u00b9)',
         rotation=90, ha='center', va='center', fontsize=20.5)
fig.text(4330 / W, 1 - 1145 / H, 'Cliff\u00b4s Delta', rotation=90, ha='center', va='center',
         fontsize=20, color='#808080')
fig.text(2228 / W, 1 - 2215 / H, 'Stance phase (%)', ha='center', va='center', fontsize=20.5)

handles = [
    Line2D([], [], color=RED, lw=1.2),
    Patch(facecolor=RED, alpha=0.13, lw=0),
    Line2D([], [], color=BLUE, lw=1.5, ls='--'),
    Patch(facecolor=BLUE, alpha=0.13, lw=0),
    Patch(facecolor=SIG_GRAY, lw=0),
    Line2D([], [], color=CD_COLOR, lw=0.9, ls='-.'),
]
labels = ['female MED', 'female IQA', 'male MED', 'male IQA', 'sig. difference (p < 0.05)', 'Cliff\u00b4s Delta']
leg = fig.legend(handles, labels, loc='center', bbox_to_anchor=(2230 / W, 1 - 58 / H), ncol=6,
                 fontsize=14.5, frameon=True, fancybox=False, edgecolor='#000000',
                 handlelength=4.2, handleheight=1.4, handletextpad=0.5, columnspacing=0.9,
                 borderpad=0.45)
leg.get_frame().set_linewidth(1.0)

fig.savefig('out.png', dpi=200)
